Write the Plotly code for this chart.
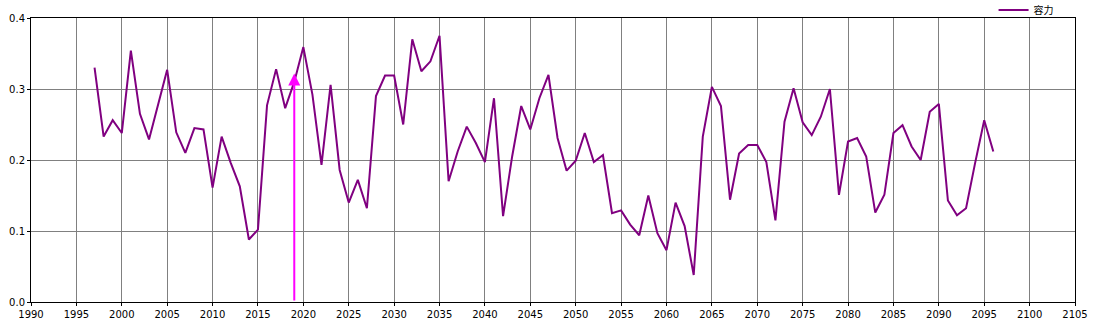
import plotly.graph_objects as go

years = list(range(1997, 2097))
values = [
    0.330, 0.233, 0.256, 0.238, 0.354, 0.265, 0.229, 0.278, 0.327, 0.239,
    0.210, 0.245, 0.243, 0.161, 0.233, 0.196, 0.163, 0.088, 0.102, 0.277,
    0.328, 0.273, 0.310, 0.359, 0.292, 0.193, 0.306, 0.186, 0.140, 0.172,
    0.132, 0.290, 0.319, 0.319, 0.250, 0.370, 0.325, 0.339, 0.375, 0.170,
    0.212, 0.247, 0.224, 0.197, 0.287, 0.121, 0.205, 0.276, 0.243, 0.287,
    0.320, 0.231, 0.185, 0.199, 0.238, 0.197, 0.207, 0.125, 0.129, 0.109,
    0.094, 0.150, 0.097, 0.073, 0.140, 0.107, 0.038, 0.233, 0.303, 0.276,
    0.144, 0.209, 0.221, 0.221, 0.197, 0.115, 0.254, 0.301, 0.253, 0.235,
    0.261, 0.300, 0.151, 0.226, 0.231, 0.205, 0.126, 0.151, 0.238, 0.249,
    0.219, 0.200, 0.268, 0.279, 0.143, 0.122, 0.132, 0.196, 0.256, 0.212,
]
series_name = "容力"
marker_year = 2019
marker_top = 0.322
x_ticks = list(range(1990, 2106, 5))
y_ticks = [0.0, 0.1, 0.2, 0.3, 0.4]

fig = go.Figure()
fig.add_trace(go.Scatter(
    x=years, y=values, mode="lines", name=series_name,
    line=dict(color="#800080", width=2),
))

fig.add_annotation(
    x=marker_year, y=marker_top, ax=marker_year, ay=0,
    xref="x", yref="y", axref="x", ayref="y",
    showarrow=True, arrowhead=2, arrowsize=1.2, arrowwidth=2,
    arrowcolor="#FF00FF", text="",
)

fig.update_layout(
    width=1093, height=330,
    margin=dict(l=31, r=18, t=18, b=28, autoexpand=False),
    paper_bgcolor="white", plot_bgcolor="white",
    font=dict(family="DejaVu Sans", size=10, color="black"),
    showlegend=True,
    legend=dict(
        x=0.922, y=1.028, xanchor="left", yanchor="middle",
        bgcolor="rgba(0,0,0,0)", borderwidth=0,
        font=dict(family="Noto Sans CJK JP", size=10, color="black"),
        itemwidth=30, tracegroupgap=0,
    ),
    xaxis=dict(
        range=[1990, 2105], tickvals=x_ticks,
        ticktext=[str(t) for t in x_ticks],
        showgrid=True, gridcolor="#808080", gridwidth=1,
        showline=True, linecolor="black", linewidth=1, mirror=True,
        ticks="outside", ticklen=3, tickcolor="black",
        zeroline=False, tickfont=dict(size=10),
    ),
    yaxis=dict(
        range=[0, 0.4], tickvals=y_ticks,
        ticktext=[f"{t:.1f}" for t in y_ticks],
        showgrid=True, gridcolor="#808080", gridwidth=1,
        showline=True, linecolor="black", linewidth=1, mirror=True,
        ticks="outside", ticklen=3, tickcolor="black",
        zeroline=False, tickfont=dict(size=10),
    ),
)

fig.write_html("out.html")
